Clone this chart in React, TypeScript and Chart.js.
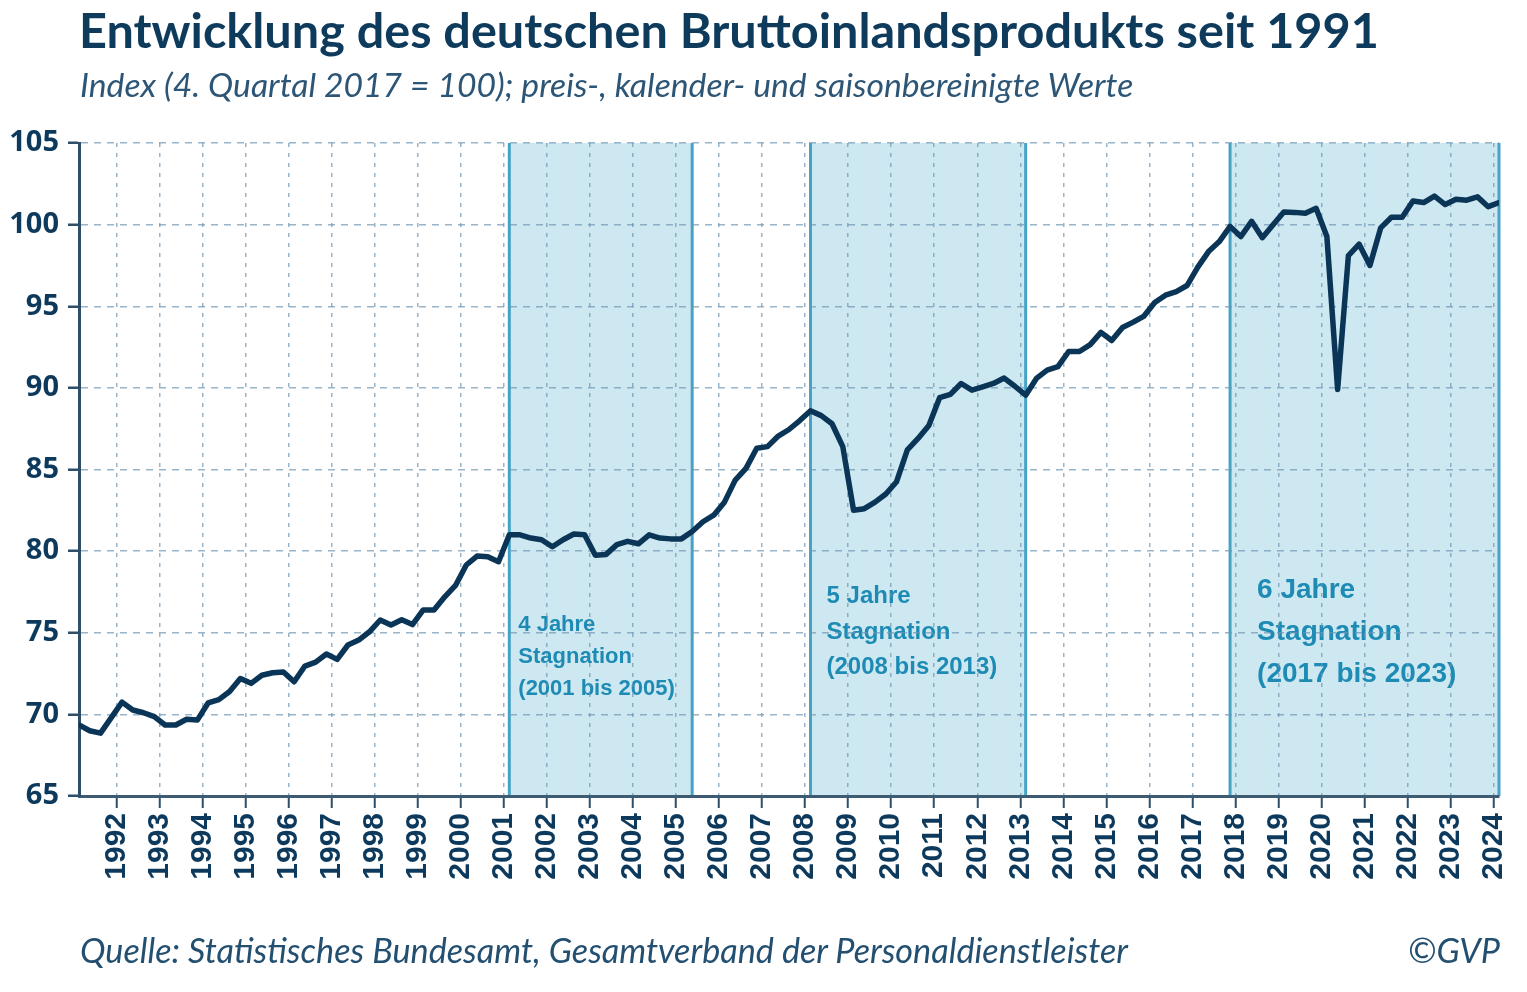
import React, { useEffect, useRef } from "react";
import { Chart, registerables } from "chart.js";

Chart.register(...registerables);

// Quarterly GDP index, 1991 Q1 ... 2024 Q1 (4. Quartal 2017 = 100)
const gdpIndex: number[] = [
  69.35, 69.0, 68.85, 69.8, 70.75, 70.27, 70.1, 69.86, 69.35, 69.35,
  69.7, 69.65, 70.7, 70.9, 71.4, 72.2, 71.9, 72.4, 72.55, 72.6,
  72.0, 72.96, 73.2, 73.7, 73.37, 74.25, 74.55, 75.06, 75.78, 75.47,
  75.8, 75.5, 76.4, 76.4, 77.2, 77.9, 79.15, 79.7, 79.65, 79.35,
  81.0, 81.0, 80.8, 80.7, 80.27, 80.7, 81.05, 81.0, 79.75, 79.8,
  80.4, 80.6, 80.45, 81.0, 80.8, 80.75, 80.75, 81.2, 81.8, 82.2,
  83.0, 84.35, 85.07, 86.3, 86.4, 87.05, 87.45, 88.0, 88.6, 88.3,
  87.8, 86.4, 82.5, 82.6, 83.0, 83.5, 84.25, 86.2, 86.9, 87.7,
  89.4, 89.6, 90.27, 89.86, 90.06, 90.27, 90.6, 90.1, 89.55, 90.58,
  91.09, 91.3, 92.23, 92.23, 92.65, 93.4, 92.9, 93.7, 94.03, 94.4,
  95.23, 95.68, 95.9, 96.27, 97.4, 98.35, 98.96, 99.89, 99.27, 100.2,
  99.2, 99.99, 100.77, 100.75, 100.7, 101.0, 99.27, 89.9, 98.1, 98.8,
  97.5, 99.8, 100.45, 100.45, 101.45, 101.35, 101.75, 101.23, 101.55, 101.5,
  101.7, 101.1, 101.35,
];

// Year tick labels (placed at the start of each year)
const yearLabels: string[] = [
  "1992", "1993", "1994", "1995", "1996", "1997", "1998", "1999", "2000",
  "2001", "2002", "2003", "2004", "2005", "2006", "2007", "2008", "2009",
  "2010", "2011", "2012", "2013", "2014", "2015", "2016", "2017", "2018",
  "2019", "2020", "2021", "2022", "2023", "2024",
];

// Stagnation periods, in quarter index (0 = 1991 Q1)
const periodStart: number[] = [40, 68, 107];
const periodEnd: number[] = [57, 88, 132];
const periodText: string[][] = [
  ["4 Jahre", "Stagnation", "(2001 bis 2005)"],
  ["5 Jahre", "Stagnation", "(2008 bis 2013)"],
  ["6 Jahre", "Stagnation", "(2017 bis 2023)"],
];

// Annotation layout (styles/positions kept separate from data)
const periodLabelStyle = [
  { dx: 9, topValue: 75.5, lineGap: 32, size: 22 },
  { dx: 16, topValue: 77.2, lineGap: 35.5, size: 24 },
  { dx: 27, topValue: 77.6, lineGap: 42, size: 28 },
];

const NAVY = "#0d3a5c";
const GRID = "rgba(110,150,180,0.7)";
const SHADE = "rgb(205,232,241)";
const SHADE_BORDER = "rgb(70,163,198)";
const ANNOT = "#1e8bb4";

const stagnationPlugin = {
  id: "stagnation",
  beforeDraw(chart: any) {
    const { ctx, chartArea, scales } = chart;
    const xs = scales.x;
    const ys = scales.y;
    ctx.save();
    periodStart.forEach((s, k) => {
      const x1 = xs.getPixelForValue(s);
      const x2 = xs.getPixelForValue(periodEnd[k]);
      ctx.fillStyle = SHADE;
      ctx.fillRect(x1, chartArea.top, x2 - x1, chartArea.bottom - chartArea.top);
      ctx.strokeStyle = SHADE_BORDER;
      ctx.lineWidth = 3;
      ctx.beginPath();
      ctx.moveTo(x1, chartArea.top);
      ctx.lineTo(x1, chartArea.bottom);
      ctx.moveTo(x2, chartArea.top);
      ctx.lineTo(x2, chartArea.bottom);
      ctx.stroke();
      const st = periodLabelStyle[k];
      ctx.fillStyle = ANNOT;
      ctx.font = `bold ${st.size}px "Liberation Sans", Arial, sans-serif`;
      ctx.textBaseline = "middle";
      ctx.textAlign = "left";
      const y0 = ys.getPixelForValue(st.topValue);
      periodText[k].forEach((line, j) => {
        ctx.fillText(line, x1 + st.dx, y0 + j * st.lineGap);
      });
    });
    ctx.restore();
  },
};

export default function App() {
  const canvasRef = useRef<HTMLCanvasElement | null>(null);

  useEffect(() => {
    if (!canvasRef.current) return;
    const points = gdpIndex.map((v, i) => ({ x: i, y: v }));
    const chart = new Chart(canvasRef.current, {
      type: "line",
      data: {
        datasets: [
          {
            data: points,
            borderColor: "#0b3557",
            borderWidth: 5.5,
            pointRadius: 0,
            tension: 0,
            borderJoinStyle: "round",
            borderCapStyle: "round",
            fill: false,
          },
        ],
      },
      options: {
        animation: false,
        responsive: true,
        maintainAspectRatio: false,
        layout: { padding: { top: 143, right: 28, left: 0, bottom: 0 } },
        plugins: {
          legend: { display: false },
          tooltip: { enabled: false },
          title: { display: false },
        },
        scales: {
          x: {
            type: "linear",
            min: 0,
            max: 132,
            afterBuildTicks: (scale: any) => {
              scale.ticks = yearLabels.map((_, k) => ({ value: 3.5 + 4 * k }));
            },
            afterFit: (scale: any) => {
              scale.height = 196;
              scale.paddingLeft = 0;
              scale.paddingRight = 0;
            },
            ticks: {
              autoSkip: false,
              minRotation: 90,
              maxRotation: 90,
              padding: 5,
              color: NAVY,
              font: { family: '"Liberation Sans", Arial, sans-serif', size: 30, weight: "bold" },
              callback: (_v: any, i: number) => yearLabels[i],
            },
            grid: {
              color: GRID,
              lineWidth: 1.5,
              drawTicks: true,
              tickLength: 12,
              tickColor: "#2f4f68",
              tickWidth: 2,
              tickBorderDash: [],
            },
            border: { display: true, color: "#3d5b73", width: 3, dash: [4, 6] },
          },
          y: {
            min: 65,
            max: 105,
            afterFit: (scale: any) => {
              scale.width = 79;
            },
            ticks: {
              stepSize: 5,
              padding: 9,
              color: NAVY,
              font: { family: '"Open Sans", sans-serif', size: 29, weight: "bold" },
            },
            grid: {
              color: GRID,
              lineWidth: 1.5,
              drawTicks: true,
              tickLength: 11,
              tickColor: "#2f4f68",
              tickWidth: 2.5,
              tickBorderDash: [],
            },
            border: { display: true, color: "#2f4f68", width: 3, dash: [7, 6] },
          },
        },
      },
      plugins: [stagnationPlugin],
    } as any);
    return () => chart.destroy();
  }, []);

  return (
    <div
      style={{
        position: "absolute",
        left: 0,
        top: 0,
        width: 1527,
        height: 992,
        background: "#ffffff",
        overflow: "hidden",
      }}
    >
      <canvas ref={canvasRef} style={{ position: "absolute", left: 0, top: 0, width: 1527, height: 992 }} />
      <div
        style={{
          position: "absolute",
          left: 79,
          top: 4,
          fontFamily: "Lato, sans-serif",
          fontWeight: 700,
          fontSize: 48.6,
          lineHeight: "50px",
          color: "#0e3a5c",
          whiteSpace: "nowrap",
        }}
      >
        Entwicklung des deutschen Bruttoinlandsprodukts seit 1991
      </div>
      <div
        style={{
          position: "absolute",
          left: 80,
          top: 64,
          fontFamily: "Lato, sans-serif",
          fontStyle: "italic",
          fontSize: 33.7,
          lineHeight: "40px",
          color: "#2c5576",
          whiteSpace: "nowrap",
        }}
      >
        Index (4. Quartal 2017 = 100); preis-, kalender- und saisonbereinigte Werte
      </div>
      <div
        style={{
          position: "absolute",
          left: 80,
          top: 930,
          fontFamily: "Lato, sans-serif",
          fontStyle: "italic",
          fontSize: 34.2,
          lineHeight: "40px",
          color: "#234f70",
          whiteSpace: "nowrap",
        }}
      >
        Quelle: Statistisches Bundesamt, Gesamtverband der Personaldienstleister
      </div>
      <div
        style={{
          position: "absolute",
          right: 27,
          top: 930,
          fontFamily: "Lato, sans-serif",
          fontStyle: "italic",
          fontSize: 34.2,
          lineHeight: "40px",
          color: "#234f70",
          whiteSpace: "nowrap",
        }}
      >
        ©GVP
      </div>
    </div>
  );
}
